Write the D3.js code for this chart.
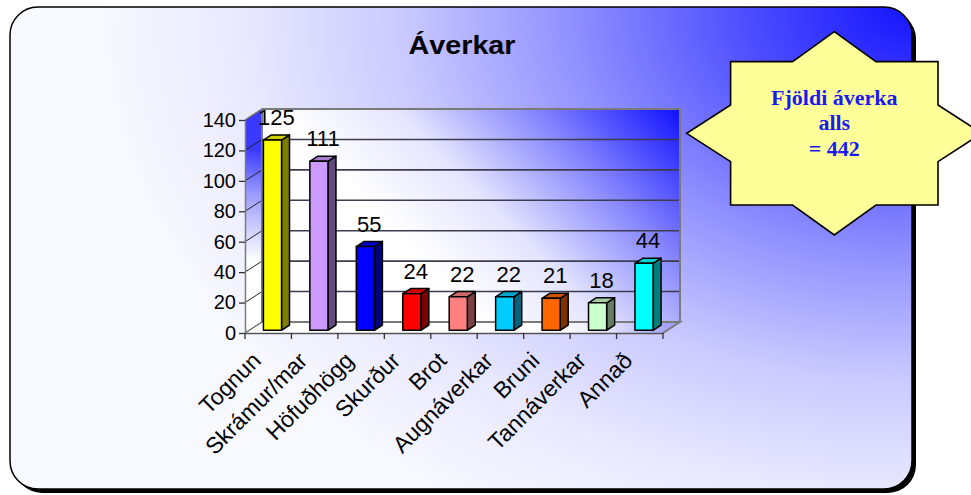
<!DOCTYPE html>
<html>
<head>
<meta charset="utf-8">
<script src="https://cdn.jsdelivr.net/npm/d3@7/dist/d3.min.js"></script>
<style>
  html, body { margin: 0; padding: 0; background: #ffffff; }
  svg { display: block; }
</style>
</head>
<body>
<svg id="chart" width="971" height="495"></svg>
<script>
// Injury counts by type
const categories = ["Tognun", "Skrámur/mar", "Höfuðhögg", "Skurður", "Brot",
                    "Augnáverkar", "Bruni", "Tannáverkar", "Annað"];
const counts = [125, 111, 55, 24, 22, 22, 21, 18, 44];
const barColors = ["#ffff00", "#cc99ff", "#0000ff", "#ff0000", "#ff8080",
                   "#00ccff", "#ff6600", "#ccffcc", "#00ffff"];
const yTicks = [0, 20, 40, 60, 80, 100, 120, 140];
const titleText = "Áverkar";
const totalCaption = ["Fjöldi áverka", "alls"];

const svg = d3.select("#chart");
const defs = svg.append("defs");

// ---- gradients ----
function linGrad(id, x1, y1, x2, y2, stops) {
  const g = defs.append("linearGradient").attr("id", id)
    .attr("gradientUnits", "userSpaceOnUse")
    .attr("x1", x1).attr("y1", y1).attr("x2", x2).attr("y2", y2);
  stops.forEach(([o, c]) => g.append("stop").attr("offset", o).attr("stop-color", c));
}
// chart area: deep blue in the top-right corner fading out elliptically
const bg = defs.append("radialGradient").attr("id", "bgGrad")
  .attr("gradientUnits", "userSpaceOnUse")
  .attr("cx", 0).attr("cy", 0).attr("r", 1)
  .attr("gradientTransform", "translate(912,8) scale(813,590)");
[[0, "#1414ff"], [0.2, "#4c4cff"], [0.42, "#9090ff"], [0.63, "#cacaff"], [0.82, "#e8e8ff"], [1, "#f8f8ff"]]
  .forEach(([o, c]) => bg.append("stop").attr("offset", o).attr("stop-color", c));

linGrad("wallGrad", 680, 109, 470, 310, [[0, "#1010ff"], [0.35, "#8080ff"], [0.7, "#e4e4ff"], [1, "#ffffff"]]);
linGrad("sideGrad", 262, 150, 245, 260, [[0, "#3a3aff"], [0.4, "#9a9aff"], [1, "#ffffff"]]);
linGrad("floorGrad", 690, 322, 560, 336, [[0, "#8a8aff"], [0.6, "#e0e0ff"], [1, "#ffffff"]]);

// ---- frame with drop shadow ----
const frame = { x: 10, y: 7, w: 902, h: 482, r: 28 };
svg.append("rect").attr("x", frame.x + 4).attr("y", frame.y + 4)
  .attr("width", frame.w).attr("height", frame.h).attr("rx", frame.r).attr("fill", "#000");
svg.append("rect").attr("x", frame.x).attr("y", frame.y)
  .attr("width", frame.w).attr("height", frame.h).attr("rx", frame.r)
  .attr("fill", "url(#bgGrad)").attr("stroke", "#000").attr("stroke-width", 1.5);

// ---- title ----
svg.append("text")
  .attr("transform", "translate(462,54) scale(1.15,1)")
  .attr("text-anchor", "middle")
  .attr("font-family", "'Liberation Sans', Arial, sans-serif")
  .attr("font-weight", "bold").attr("font-size", 25)
  .attr("fill", "#000").text(titleText);

// ---- 3D plot geometry ----
const plot = { left: 245, right: 663, base: 333, top: 120 };
const depth = { dx: 17, dy: -11 };
const y = d3.scaleLinear().domain([0, 140]).range([plot.base, plot.top]);
const x = d3.scaleBand().domain(categories).range([plot.left, plot.right]);

const pts = a => a.map(p => p.join(",")).join(" ");
const yBack = v => y(v) + depth.dy;
const xBackL = plot.left + depth.dx, xBackR = plot.right + depth.dx;

// back wall
svg.append("rect").attr("x", xBackL).attr("y", yBack(140))
  .attr("width", xBackR - xBackL).attr("height", yBack(0) - yBack(140))
  .attr("fill", "url(#wallGrad)");
// left side wall
svg.append("polygon").attr("points", pts([[plot.left, y(0)], [plot.left, y(140)], [xBackL, yBack(140)], [xBackL, yBack(0)]]))
  .attr("fill", "url(#sideGrad)");
// floor
svg.append("polygon").attr("points", pts([[plot.left, y(0)], [plot.right, y(0)], [xBackR, yBack(0)], [xBackL, yBack(0)]]))
  .attr("fill", "url(#floorGrad)");

// gridlines on back wall and their continuation on the side wall
const grid = svg.append("g");
grid.selectAll("line.bg").data(yTicks.filter(t => t > 0 && t < 140)).join("line")
  .attr("x1", xBackL).attr("x2", xBackR).attr("y1", d => yBack(d)).attr("y2", d => yBack(d))
  .attr("stroke", "#3c3c50").attr("stroke-width", 1.6);
grid.selectAll("line.sg").data(yTicks).join("line")
  .attr("x1", plot.left).attr("y1", d => y(d)).attr("x2", xBackL).attr("y2", d => yBack(d))
  .attr("stroke", "#222").attr("stroke-width", 1);

// wall and floor edges
const edge = svg.append("g").attr("fill", "none").attr("stroke", "#7a7a7a").attr("stroke-width", 2);
edge.append("polyline").attr("points", pts([[xBackL, yBack(140)], [xBackR, yBack(140)], [xBackR, yBack(0)]]));
edge.append("polyline").attr("points", pts([[xBackL, yBack(140)], [xBackL, yBack(0)], [xBackR, yBack(0)], [plot.right, y(0)]]));
edge.append("line").attr("x1", plot.left).attr("y1", y(140)).attr("x2", xBackL).attr("y2", yBack(140))
  .attr("stroke-width", 1.2);
edge.append("line").attr("x1", plot.left).attr("y1", y(0)).attr("x2", xBackL).attr("y2", yBack(0))
  .attr("stroke-width", 1.2);

// ---- bars ----
const t0 = 0.25, t1 = 0.72;
const ox = t0 * depth.dx, oy = t0 * depth.dy;
const ddx = (t1 - t0) * depth.dx, ddy = (t1 - t0) * depth.dy;
const bw = x.bandwidth() * 0.39;
const barData = categories.map((c, i) => ({ c, v: counts[i], col: barColors[i] }));
const fx = d => x(d.c) + x.bandwidth() / 2 - bw / 2 + ox;

const bars = svg.append("g").selectAll("g").data(barData).join("g")
  .attr("stroke", "#000").attr("stroke-width", 1.5).attr("stroke-linejoin", "round");
bars.append("polygon")  // side
  .attr("points", d => {
    const xr = fx(d) + bw, yt = y(d.v) + oy, yb = y(0) + oy;
    return pts([[xr, yt], [xr + ddx, yt + ddy], [xr + ddx, yb + ddy], [xr, yb]]);
  })
  .attr("fill", d => d3.color(d.col).darker(2).formatHex());
bars.append("polygon")  // top
  .attr("points", d => {
    const xl = fx(d), yt = y(d.v) + oy;
    return pts([[xl, yt], [xl + ddx, yt + ddy], [xl + bw + ddx, yt + ddy], [xl + bw, yt]]);
  })
  .attr("fill", d => d3.color(d.col).darker(0.6).formatHex());
bars.append("rect")     // front
  .attr("x", fx).attr("y", d => y(d.v) + oy)
  .attr("width", bw).attr("height", d => y(0) - y(d.v))
  .attr("fill", d => d.col);

// value labels
svg.append("g").selectAll("text").data(barData).join("text")
  .attr("x", d => fx(d) + bw / 2 + 4)
  .attr("y", d => y(d.v) + oy - 15)
  .attr("text-anchor", "middle")
  .attr("font-family", "'Liberation Sans', Arial, sans-serif")
  .attr("font-size", 22).attr("fill", "#000")
  .text(d => d.v);

// ---- y axis ----
const yAxis = svg.append("g").attr("transform", `translate(${plot.left},0)`)
  .call(d3.axisLeft(y).tickValues(yTicks).tickSize(6).tickPadding(3).tickSizeOuter(0));
yAxis.select(".domain").attr("stroke", "#7a7a7a").attr("stroke-width", 1.5);
yAxis.selectAll(".tick line").attr("stroke", "#333").attr("stroke-width", 1.3);
yAxis.selectAll(".tick text")
  .attr("font-family", "'Liberation Sans', Arial, sans-serif")
  .attr("font-size", 20).attr("fill", "#000");

// ---- x axis: front floor edge, band ticks, rotated names ----
const xAxis = svg.append("g").attr("transform", `translate(0,${plot.base})`)
  .call(d3.axisBottom(x).tickSize(0).tickPadding(0).tickSizeOuter(0));
xAxis.select(".domain").attr("stroke", "#555").attr("stroke-width", 1.5);
xAxis.selectAll(".tick text").remove();
const bounds = categories.map(c => x(c)).concat([plot.right]);
xAxis.selectAll("line.bt").data(bounds).join("line")
  .attr("x1", d => d).attr("x2", d => d).attr("y1", 0).attr("y2", 6)
  .attr("stroke", "#333").attr("stroke-width", 1.3);
svg.append("g").selectAll("text").data(categories).join("text")
  .attr("transform", c => `translate(${x(c) + x.bandwidth() / 2 - 6},362) rotate(-45)`)
  .attr("text-anchor", "end")
  .attr("font-family", "'Liberation Sans', Arial, sans-serif")
  .attr("font-size", 23).attr("fill", "#000")
  .text(c => c);

// ---- eight-point star callout with the total ----
const star = { cx: 834.3, cy: 133.3, tipX: 147.6, tipY: 101.6, rw: 103.7, rh: 71.7, nx: 41.7, ny: 28.3 };
const s = star;
const starPts = [
  [0, -s.tipY], [s.nx, -s.rh], [s.rw, -s.rh], [s.rw, -s.ny], [s.tipX, 0], [s.rw, s.ny],
  [s.rw, s.rh], [s.nx, s.rh], [0, s.tipY], [-s.nx, s.rh], [-s.rw, s.rh], [-s.rw, s.ny],
  [-s.tipX, 0], [-s.rw, -s.ny], [-s.rw, -s.rh], [-s.nx, -s.rh]
].map(([dx, dy]) => [s.cx + dx, s.cy + dy]);
svg.append("polygon").attr("points", pts(starPts))
  .attr("fill", "#ffff99").attr("stroke", "#000").attr("stroke-width", 1.6)
  .attr("stroke-linejoin", "miter");
const total = d3.sum(counts);
svg.append("g").selectAll("text").data(totalCaption.concat(["= " + total])).join("text")
  .attr("x", s.cx).attr("y", (d, i) => 104.5 + i * 25.5)
  .attr("text-anchor", "middle")
  .attr("font-family", "'Liberation Serif', 'Times New Roman', serif")
  .attr("font-weight", "bold").attr("font-size", 22).attr("fill", "#1a1af0")
  .text(d => d);
</script>
</body>
</html>
